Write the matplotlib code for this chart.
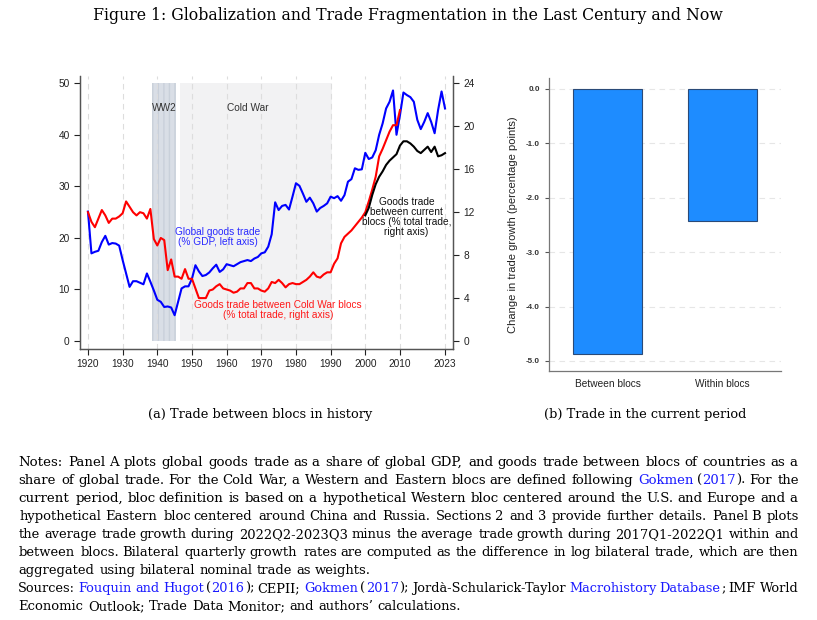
import matplotlib
matplotlib.use('Agg')
import matplotlib.pyplot as plt
import numpy as np

W, H = 817, 620
SERIF = 'DejaVu Serif'
SANS = 'Liberation Sans'
LINK = '#1a1aff'

## data
years = np.arange(1920, 2024)
global_trade = [25.1, 17.0, 17.3, 17.5, 19.2, 20.4, 18.7, 19.0, 18.9, 18.5,
                15.7, 13.1, 10.5, 11.6, 11.6, 11.3, 11.0, 13.1, 11.5, 9.8,
                8.0, 7.6, 6.6, 6.7, 6.5, 5.0, 7.6, 10.2, 10.6, 10.6,
                12.1, 14.7, 13.5, 12.6, 12.8, 13.3, 14.1, 14.8, 13.4, 13.9,
                14.9, 14.7, 14.5, 14.9, 15.3, 15.5, 15.7, 15.5, 16.0, 16.3,
                17.0, 17.2, 18.3, 20.7, 26.9, 25.4, 26.2, 26.4, 25.5, 28.0,
                30.6, 30.1, 28.6, 27.0, 27.8, 26.7, 25.1, 25.8, 26.2, 26.7,
                28.0, 27.7, 28.1, 27.2, 28.3, 30.9, 31.4, 33.5, 33.2, 33.3,
                36.5, 35.3, 35.6, 37.0, 40.0, 42.2, 45.1, 46.4, 48.6, 40.0,
                43.8, 48.2, 47.7, 47.3, 46.4, 42.9, 41.1, 42.5, 44.2, 42.5,
                40.3, 44.8, 48.4, 45.1]

cw_years = np.arange(1920, 2011)
cold_war_blocs = [12.0, 11.1, 10.6, 11.4, 12.2, 11.7, 11.0, 11.4, 11.4, 11.6,
                  11.9, 13.0, 12.5, 12.0, 11.7, 12.0, 11.9, 11.4, 12.3, 9.5,
                  8.9, 9.6, 9.4, 6.6, 7.6, 6.0, 6.0, 5.8, 6.7, 5.8,
                  5.8, 4.9, 4.0, 4.0, 4.0, 4.7, 4.8, 5.1, 5.3, 4.9,
                  4.8, 4.7, 4.5, 4.6, 4.9, 4.9, 5.4, 5.4, 4.9, 4.9,
                  4.7, 4.6, 4.9, 5.5, 5.4, 5.7, 5.4, 5.0, 5.3, 5.4,
                  5.3, 5.3, 5.5, 5.7, 6.0, 6.4, 6.0, 5.9, 6.2, 6.4,
                  6.4, 7.2, 7.7, 9.1, 9.7, 10.0, 10.3, 10.7, 11.1, 11.5,
                  12.0, 13.0, 14.1, 15.3, 17.2, 17.9, 18.7, 19.5, 20.1, 20.1,
                  21.5]

cur_years = np.arange(2000, 2024)
current_blocs = [11.7, 12.4, 13.6, 14.6, 15.3, 15.8, 16.4, 16.8, 17.1, 17.4,
                 18.2, 18.6, 18.6, 18.4, 18.1, 17.7, 17.5, 17.8, 18.1, 17.6,
                 18.1, 17.2, 17.3, 17.5]

ww2 = (1938.4, 1945.4)
cold_war = (1946.5, 1990.3)
xticks = [1920, 1930, 1940, 1950, 1960, 1970, 1980, 1990, 2000, 2010, 2023]

bar_labels = ['Between blocs', 'Within blocs']
bar_values = [-4.87, -2.42]

notes = [
    ("Notes: Panel A plots global goods trade as a share of global GDP, and goods trade between blocs of countries as a", True),
    ("share of global trade. For the Cold War, a Western and Eastern blocs are defined following {Gokmen} ({2017}). For the", True),
    ("current period, bloc definition is based on a hypothetical Western bloc centered around the U.S. and Europe and a", True),
    ("hypothetical Eastern bloc centered around China and Russia. Sections 2 and 3 provide further details. Panel B plots", True),
    ("the average trade growth during 2022Q2-2023Q3 minus the average trade growth during 2017Q1-2022Q1 within and", True),
    ("between blocs. Bilateral quarterly growth rates are computed as the difference in log bilateral trade, which are then", True),
    ("aggregated using bilateral nominal trade as weights.", False),
    ("Sources: {Fouquin and Hugot} ({2016}); CEPII; {Gokmen} ({2017}); Jordà-Schularick-Taylor {Macrohistory Database}; IMF World", True),
    ("Economic Outlook; Trade Data Monitor; and authors\u2019 calculations.", False),
]


def px_axes(fig, l, t, r, b):
    return fig.add_axes([l / W, 1 - b / H, (r - l) / W, (b - t) / H])


fig = plt.figure(figsize=(W / 100, H / 100), dpi=100)
fig.patch.set_facecolor('white')

## ---------------- panel A
ax = px_axes(fig, 80, 76, 453, 349)
ax2 = ax.twinx()
ax.set_xlim(1917.7, 2025.3)
ax.set_ylim(-1.55, 51.4)
ax2.set_ylim(-0.74, 24.68)

ax.fill_between(ww2, 0, 50, color='#d9dee6', lw=0, zorder=0)
ax.fill_between(ww2, 0, 50, facecolor='none', edgecolor='#c9d0da', hatch='|||', lw=0, zorder=0)
ax.fill_between(cold_war, 0, 50, color='#f2f2f3', lw=0, zorder=0)
for x in xticks:
    ax.axvline(x, color='#dddddd', lw=0.8, ls=(0, (5, 4)), zorder=0.5)

ax.plot(years, global_trade, color='#0000ff', lw=1.5, zorder=3)
ax2.plot(cw_years, cold_war_blocs, color='#ff0000', lw=1.5, zorder=3)
ax2.plot(cur_years, current_blocs, color='black', lw=1.5, zorder=3)

ax.set_xticks(xticks)
ax.set_yticks([0, 10, 20, 30, 40, 50])
ax2.set_yticks([0, 4, 8, 12, 16, 20, 24])
for a in (ax, ax2):
    a.tick_params(labelsize=7.3, colors='#222222', length=4, width=0.8)
    for tl in a.get_xticklabels() + a.get_yticklabels():
        tl.set_family(SANS)
    for s in a.spines.values():
        s.set_color('#555555')
        s.set_linewidth(0.9)
    a.spines['top'].set_visible(False)

ax.text(1941.9, 45.2, 'WW2', fontsize=7.3, family=SANS, color='#333333', ha='center', va='center')
ax.text(1966.1, 45.2, 'Cold War', fontsize=7.3, family=SANS, color='#333333', ha='center', va='center')
ax.text(1957.5, 20.2, 'Global goods trade\n(% GDP, left axis)', fontsize=7.3, family=SANS,
        color='#2a2aff', ha='center', va='center', linespacing=1.0)
ax.text(1974.8, 6.0, 'Goods trade between Cold War blocs\n(% total trade, right axis)', fontsize=7.3,
        family=SANS, color='#ff1a1a', ha='center', va='center', linespacing=1.0)
ax.text(2011.9, 24.1, 'Goods trade\nbetween current\nblocs (% total trade,\nright axis)', fontsize=7.3,
        family=SANS, color='#111111', ha='center', va='center', linespacing=1.0)

## ---------------- panel B
bx = px_axes(fig, 549, 78, 781, 370.7)
pos = np.arange(len(bar_labels))
bx.bar(pos, bar_values, width=0.6, color='#1e8cff', edgecolor='#2a4a78', linewidth=0.8, zorder=2)
bx.set_xlim(-0.51, 1.51)
bx.set_ylim(-5.18, 0.2)
bx.set_yticks([0, -1, -2, -3, -4, -5])
bx.set_yticklabels(['%.1f' % v for v in [0, -1, -2, -3, -4, -5]], family=SANS, fontsize=5.8,
                   fontweight='bold')
bx.set_xticks(pos)
bx.set_xticklabels(bar_labels, family=SANS, fontsize=7.3)
bx.tick_params(axis='x', length=0, pad=6, colors='#222222')
bx.tick_params(axis='y', length=3, width=0.8, colors='#555555', labelcolor='#333333')
bx.yaxis.grid(True, color='#e6e6e6', lw=0.8, ls=(0, (5, 4)), zorder=0)
bx.set_axisbelow(True)
for side in ('top', 'right'):
    bx.spines[side].set_visible(False)
for side in ('left', 'bottom'):
    bx.spines[side].set_color('#777777')
    bx.spines[side].set_linewidth(0.9)
bx.set_ylabel('Change in trade growth (percentage points)', family=SANS, fontsize=8,
              color='#222222', labelpad=6)

## ---------------- text measuring on a scratch canvas (ink extents in pixels)
scratch = plt.figure(figsize=(11, 0.6), dpi=100)
scratch.patch.set_facecolor('white')
_cache = {}


def ink(s, fs):
    key = (s, round(float(fs), 4))
    if key not in _cache:
        t = scratch.text(20 / 1100, 0.3, s, fontsize=fs, family=SERIF, color='black')
        scratch.canvas.draw()
        a = np.asarray(scratch.canvas.buffer_rgba())[:, :, :3].min(axis=2)
        cols = np.where((a < 235).any(axis=0))[0]
        t.remove()
        _cache[key] = (int(cols[0]) - 20, int(cols[-1] - cols[0] + 1))
    return _cache[key]


def fit_size(s, target):
    return 10 * target / ink(s, 10)[1]


title = 'Figure 1: Globalization and Trade Fragmentation in the Last Century and Now'
fig.text(408 / W, 1 - 20 / H, title, fontsize=fit_size(title, 632), family=SERIF,
         ha='center', va='baseline')

cap_fs = fit_size('(a) Trade between blocs in history', 224)
fig.text(260 / W, 1 - 418 / H, '(a) Trade between blocs in history', fontsize=cap_fs,
         family=SERIF, ha='center', va='baseline')
fig.text(645 / W, 1 - 418 / H, '(b) Trade in the current period', fontsize=cap_fs,
         family=SERIF, ha='center', va='baseline')


def parse(line):
    words, cur, buf, blue = [], [], '', False
    for ch in line + ' ':
        if ch in '{}':
            if buf:
                cur.append((buf, blue))
                buf = ''
            blue = ch == '{'
        elif ch == ' ':
            if buf:
                cur.append((buf, blue))
                buf = ''
            if cur:
                words.append(cur)
                cur = []
        else:
            buf += ch
    return words


L, R = 19, 798
parsed = [parse(line) for line, _ in notes]
plain = [[''.join(p[0] for p in w) for w in wds] for wds in parsed]
fits = [fit_size(' '.join(pl), R - L) for pl, (_, just) in zip(plain, notes) if just]
mid = float(np.median(fits))

for k, (line, just) in enumerate(notes):
    y = 466 + 18 * k
    wds = parsed[k]
    words = plain[k]
    flat = ' '.join(words)
    n = len(words) - 1
    fs = float(np.clip(fit_size(flat, R - L), mid * 0.98, mid * 1.02)) if just else mid
    extra = (R - L - ink(flat, fs)[1]) / n if just else 0.0
    for i, w in enumerate(wds):
        head = ' '.join(words[:i])
        head = head + ' ' if head else ''
        inner = ''
        for s, blue in w:
            inner += s
            off, wd = ink(s, fs)
            start = ink(head + inner, fs)[1] - wd  # ink-left of the piece in the natural line
            fig.text((L + start + i * extra - off) / W, 1 - y / H, s, fontsize=fs,
                     family=SERIF, color=LINK if blue else 'black', va='baseline')

plt.close(scratch)
fig.savefig('out.png', dpi=100, facecolor='white')
